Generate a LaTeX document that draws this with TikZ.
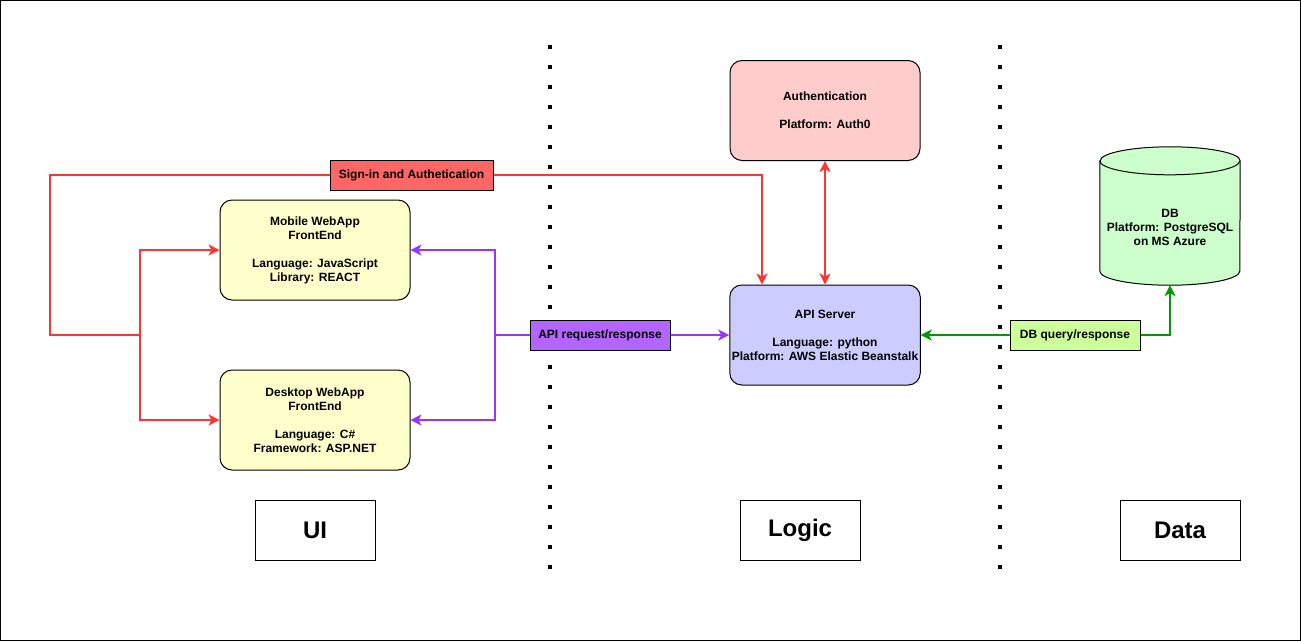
\documentclass[tikz,border=0pt]{standalone}
\usepackage{fontspec}
\setmainfont{Liberation Sans}
\usetikzlibrary{arrows.meta,calc}
\definecolor{uiyellow}{HTML}{FFFFCC}
\definecolor{authpink}{HTML}{FFCCCC}
\definecolor{apiblue}{HTML}{CCCCFF}
\definecolor{dbgreen}{HTML}{CCFFCC}
\definecolor{signred}{HTML}{FF6666}
\definecolor{apipurple}{HTML}{B266FF}
\definecolor{querygreen}{HTML}{CCFF99}
\definecolor{linered}{HTML}{FF3333}
\definecolor{linepurple}{HTML}{9933FF}
\definecolor{linegreen}{HTML}{009900}
\tikzset{
    tierbox/.style={draw, line width=1pt, rounded corners=12pt, minimum width=190pt, minimum height=100pt, align=center, inner sep=2pt, font=\fontsize{12}{14}\selectfont\bfseries},
    flowlabel/.style={draw, line width=1pt, minimum height=30pt, inner sep=2pt, font=\fontsize{12}{14}\selectfont\bfseries},
    layerbox/.style={draw, line width=1pt, minimum width=120pt, minimum height=60pt, font=\fontsize{24}{28}\selectfont\bfseries},
    dbshape/.style={minimum width=140pt, minimum height=138pt, inner sep=0pt},
    flowtip/.style={-{Stealth[length=11pt,width=11pt,inset=3pt]}},
    bothtips/.style={{Stealth[length=11pt,width=11pt,inset=3pt]}-{Stealth[length=11pt,width=11pt,inset=3pt]}},
    redline/.style={draw=linered, line width=1.5pt},
    purpleline/.style={draw=linepurple, line width=1.5pt},
    greenline/.style={draw=linegreen, line width=1.5pt},
    divider/.style={line width=4pt, dash pattern=on 4pt off 16pt}
}
\begin{document}
\begin{tikzpicture}[x=1pt, y=-1pt]
                \useasboundingbox (0,0) rectangle (1301,641);
                \draw[line width=1pt] (0.5,0.5) rectangle (1300.5,640.5);
                \draw[divider] (550,45) -- (550,580);
                \draw[divider] (1000,45) -- (1000,580);
                \node[tierbox, fill=uiyellow] (mobile) at (315,250) {Mobile WebApp\\FrontEnd\\[14pt]Language: JavaScript\\Library: REACT};
                \node[tierbox, fill=uiyellow] (desktop) at (315,420) {Desktop WebApp\\FrontEnd\\[14pt]Language: C\#\\Framework: ASP.NET};
                \node[tierbox, fill=authpink] (auth) at (825,110.5) {Authentication\\[14pt]Platform: Auth0};
                \node[tierbox, fill=apiblue] (api) at (825,335) {API Server\\[14pt]Language: python\\Platform: AWS Elastic Beanstalk};
                \node[dbshape] (db) at (1170,216) {};
                \draw[line width=1pt, fill=dbgreen] ($(db.north west)+(0,14)$) -- ($(db.south west)+(0,-14)$) arc[start angle=180, end angle=360, x radius=70pt, y radius=14pt] -- ($(db.north east)+(0,14)$) arc[start angle=0, end angle=180, x radius=70pt, y radius=14pt] -- cycle;
                \draw[line width=1pt] ($(db.north west)+(0,14)$) arc[start angle=180, end angle=360, x radius=70pt, y radius=14pt];
                \node[align=center, font=\fontsize{12}{14}\selectfont\bfseries] (dbtext) at (1170,227.5) {DB\\Platform: PostgreSQL\\on MS Azure};
                \node[flowlabel, fill=signred, minimum width=163pt] (signin) at (411.5,175) {Sign-in and Authetication};
                \node[flowlabel, fill=apipurple, minimum width=140pt] (apilabel) at (600,335) {API request/response};
                \node[flowlabel, fill=querygreen, minimum width=130pt] (dblabel) at (1075,335) {DB query/response};
                \node[layerbox] (ui) at (315,530) {UI};
                \node[layerbox] (logic) at (800,530) {Logic};
                \node[layerbox] (data) at (1180,530) {Data};
                \coordinate (redturn) at (50,335);
                \coordinate (redfork) at (140,335);
                \coordinate (purplefork) at (495,335);
                \draw[redline] (signin.west) -| (redturn) -- (redfork);
                \draw[redline, flowtip] (redfork) |- (mobile.west);
                \draw[redline, flowtip] (redfork) |- (desktop.west);
                \draw[redline, flowtip] (signin.east) -| ([xshift=-63pt]api.north);
                \draw[redline, bothtips] (auth.south) -- (api.north);
                \draw[purpleline] (apilabel.west) -- (purplefork);
                \draw[purpleline, flowtip] (purplefork) |- (mobile.east);
                \draw[purpleline, flowtip] (purplefork) |- (desktop.east);
                \draw[purpleline, flowtip] (apilabel.east) -- (api.west);
                \draw[greenline, flowtip] (dblabel.west) -- (api.east);
                \draw[greenline, flowtip] (dblabel.east) -| (db.south);
            \end{tikzpicture}
\end{document}
